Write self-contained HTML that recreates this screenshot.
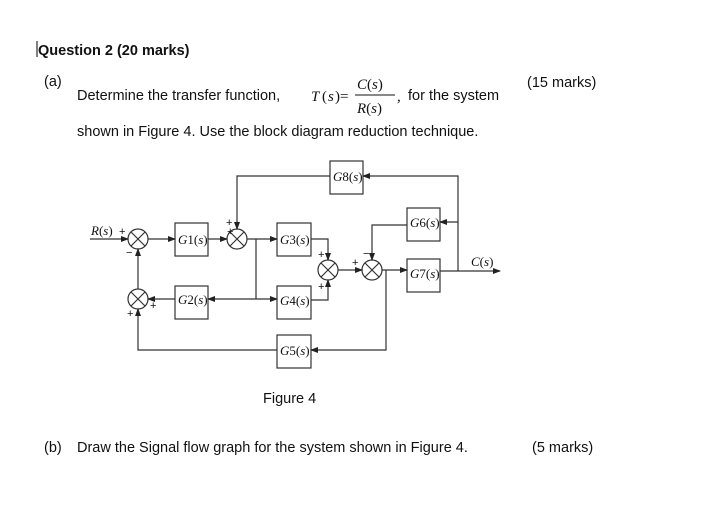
<!DOCTYPE html>
<html><head><style>body{margin:0;background:#fff}svg{display:block}</style></head><body>
<svg width="716" height="525" xmlns="http://www.w3.org/2000/svg">
<defs><marker id="a" markerWidth="8" markerHeight="6" refX="7" refY="3" orient="auto" markerUnits="userSpaceOnUse"><path d="M0,0L8,3L0,6z" fill="#222"/></marker></defs>
<g font-family="Liberation Sans, Arial, sans-serif" fill="#111">
<line x1="37" y1="41" x2="37" y2="57" stroke="#000"/>
<text x="38" y="55" font-size="14.5" font-weight="bold">Question 2 (20 marks)</text>
<text x="44" y="86" font-size="14.5">(a)</text>
<text x="77" y="100" font-size="14.5">Determine the transfer function,</text>
<text x="408" y="100" font-size="14.5">for the system</text>
<text x="527" y="87" font-size="14.5">(15 marks)</text>
<text x="77" y="136" font-size="14.5">shown in Figure 4. Use the block diagram reduction technique.</text>
<text x="263" y="403" font-size="14.5">Figure 4</text>
<text x="44" y="452" font-size="14.5">(b)</text>
<text x="77" y="452" font-size="14.5">Draw the Signal flow graph for the system shown in Figure 4.</text>
<text x="532" y="452" font-size="14.5">(5 marks)</text>
</g>
<g font-family="Liberation Serif, serif" font-style="italic" fill="#111">
<text x="311" y="101" font-size="15">T</text><text x="322" y="101" font-size="15" font-style="normal">(</text><text x="328" y="101" font-size="15">s</text><text x="335" y="101" font-size="15" font-style="normal">)=</text>
<text x="357" y="89" font-size="15">C<tspan font-style="normal">(</tspan>s<tspan font-style="normal">)</tspan></text>
<line x1="355" y1="95" x2="395" y2="95" stroke="#111"/>
<text x="357" y="113" font-size="15">R<tspan font-style="normal">(</tspan>s<tspan font-style="normal">)</tspan></text>
<text x="397" y="101" font-size="15" font-style="normal">,</text>
</g>
<g stroke="#333" stroke-width="1.2" fill="none">
<!-- summers -->
<g fill="#fff">
<circle cx="138" cy="239" r="10"/><circle cx="237" cy="239" r="10"/><circle cx="138" cy="299" r="10"/><circle cx="328" cy="270" r="10"/><circle cx="372" cy="270" r="10"/>
</g>
<path d="M131,232l14,14M145,232l-14,14M230,232l14,14M244,232l-14,14M131,292l14,14M145,292l-14,14M321,263l14,14M335,263l-14,14M365,263l14,14M379,263l-14,14"/>
<!-- blocks -->
<rect x="175" y="223" width="33" height="33"/><rect x="277" y="223" width="34" height="33"/>
<rect x="175" y="286" width="33" height="33"/><rect x="277" y="286" width="34" height="33"/>
<rect x="277" y="335" width="34" height="33"/><rect x="330" y="161" width="33" height="33"/>
<rect x="407" y="208" width="33" height="33"/><rect x="407" y="259" width="33" height="33"/>
<!-- lines -->
<path d="M90,239H128" marker-end="url(#a)"/>
<path d="M148,239H175" marker-end="url(#a)"/>
<path d="M208,239H227" marker-end="url(#a)"/>
<path d="M247,239H277" marker-end="url(#a)"/>
<path d="M256,239V299"/>
<path d="M256,299H208" marker-end="url(#a)"/>
<path d="M256,299H277" marker-end="url(#a)"/>
<path d="M175,299H148" marker-end="url(#a)"/>
<path d="M138,289V249" marker-end="url(#a)"/>
<path d="M277,350H138V309" marker-end="url(#a)"/>
<path d="M330,176H237V229" marker-end="url(#a)"/>
<path d="M311,239H328V260" marker-end="url(#a)"/>
<path d="M311,300H328V280" marker-end="url(#a)"/>
<path d="M338,270H362" marker-end="url(#a)"/>
<path d="M382,270H407" marker-end="url(#a)"/>
<path d="M386,270V350H311" marker-end="url(#a)"/>
<path d="M440,271H500" marker-end="url(#a)"/>
<path d="M458,271V176H363" marker-end="url(#a)"/>
<path d="M458,222H440" marker-end="url(#a)"/>
<path d="M407,225H372V260" marker-end="url(#a)"/>
</g>
<g font-family="Liberation Serif, serif" font-size="13" fill="#111">
<text x="178" y="244"><tspan font-style="italic">G</tspan>1(<tspan font-style="italic">s</tspan>)</text>
<text x="280" y="244"><tspan font-style="italic">G</tspan>3(<tspan font-style="italic">s</tspan>)</text>
<text x="178" y="304"><tspan font-style="italic">G</tspan>2(<tspan font-style="italic">s</tspan>)</text>
<text x="280" y="305"><tspan font-style="italic">G</tspan>4(<tspan font-style="italic">s</tspan>)</text>
<text x="280" y="355"><tspan font-style="italic">G</tspan>5(<tspan font-style="italic">s</tspan>)</text>
<text x="333" y="181"><tspan font-style="italic">G</tspan>8(<tspan font-style="italic">s</tspan>)</text>
<text x="410" y="227"><tspan font-style="italic">G</tspan>6(<tspan font-style="italic">s</tspan>)</text>
<text x="410" y="278"><tspan font-style="italic">G</tspan>7(<tspan font-style="italic">s</tspan>)</text>
<text x="91" y="235"><tspan font-style="italic">R</tspan>(<tspan font-style="italic">s</tspan>)</text>
<text x="471" y="266"><tspan font-style="italic">C</tspan>(<tspan font-style="italic">s</tspan>)</text>
<g font-family="Liberation Sans, sans-serif" font-size="11">
<text x="119" y="235">+</text><text x="126" y="256">−</text>
<text x="227" y="235">+</text><text x="226" y="226">+</text>
<text x="150" y="309">+</text><text x="127" y="317">+</text>
<text x="318" y="258">+</text><text x="318" y="290">+</text>
<text x="352" y="266">+</text><text x="363" y="257">−</text>
</g>
</g>
</svg>
</body></html>
